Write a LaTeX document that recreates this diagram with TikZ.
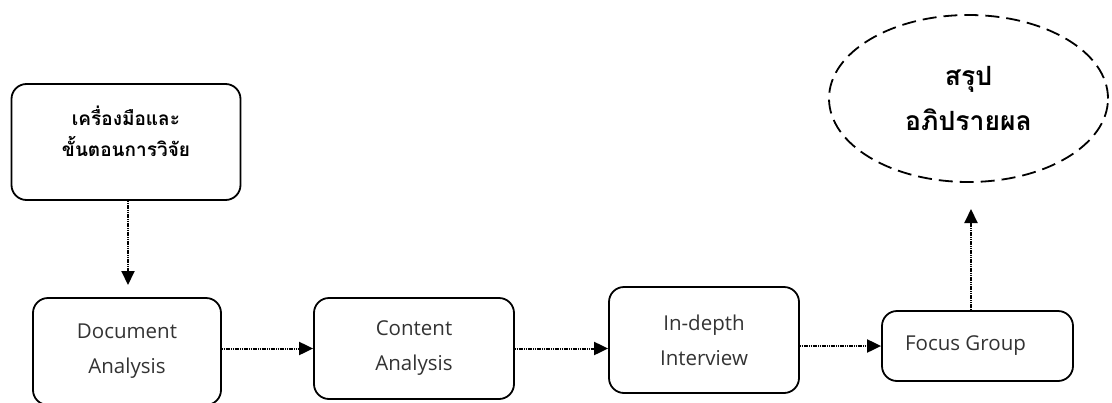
\documentclass[tikz,border=0pt]{standalone}
\usepackage{fontspec}
\setmainfont{Open Sans}
\newfontfamily\thaifont[Script=Thai]{Loma}
\usepackage{tikz}
\usetikzlibrary{shapes,arrows.meta,positioning,calc}

\begin{document}
\begin{tikzpicture}[x=1pt, y=-1pt,
    box/.style={draw, line width=1.8pt, rounded corners=15pt, align=center, inner sep=0pt,
        text=black!80, font=\fontsize{20.5}{35}\selectfont},
    thaibox/.style={box, text=black, font=\thaifont\bfseries\fontsize{19}{31}\selectfont},
    flow/.style={dash pattern=on 1.2pt off 0.6pt, line width=2pt, -{Triangle[length=14pt,width=13pt]}}]
    \useasboundingbox (0,0) rectangle (1112,402);

    \node[thaibox, minimum width=229pt, minimum height=116pt, text depth=22pt] (tool) at (126,142) {เครื่องมือและ\\ขั้นตอนการวิจัย};
    \node[box, minimum width=188pt, minimum height=107pt] (doc) at (127,351.5) {Document\\Analysis};
    \node[box, minimum width=200pt, minimum height=101pt] (content) at (414,348.5) {Content\\Analysis};
    \node[box, minimum width=190pt, minimum height=106pt] (interview) at (704,340) {In-depth\\Interview};
    \node[box, minimum width=191pt, minimum height=70pt] (focus) at (977.5,346) {\hspace*{-24pt}Focus Group};
    \node[draw, ellipse, dash pattern=on 14pt off 7pt, line width=1.8pt,
        minimum width=279pt, minimum height=167pt, align=center,
        font=\thaifont\bfseries\fontsize{26.5}{45}\selectfont] (summary) at (968.5,98.5) {สรุป\\อภิปรายผล};

    % arrow ends that stop short of the next shape
    \coordinate (doctip) at (128,285);
    \coordinate (sumtip) at (971,209);

    \draw[flow] (tool.south -| doctip) -- (doctip);
    \draw[flow] (content.west -| doc.east) -- (content.west);
    \draw[flow] (content.east) -- (content.east -| interview.west);
    \draw[flow] (focus.west -| interview.east) -- (focus.west);
    \draw[flow] (focus.north -| sumtip) -- (sumtip);
\end{tikzpicture}
\end{document}
